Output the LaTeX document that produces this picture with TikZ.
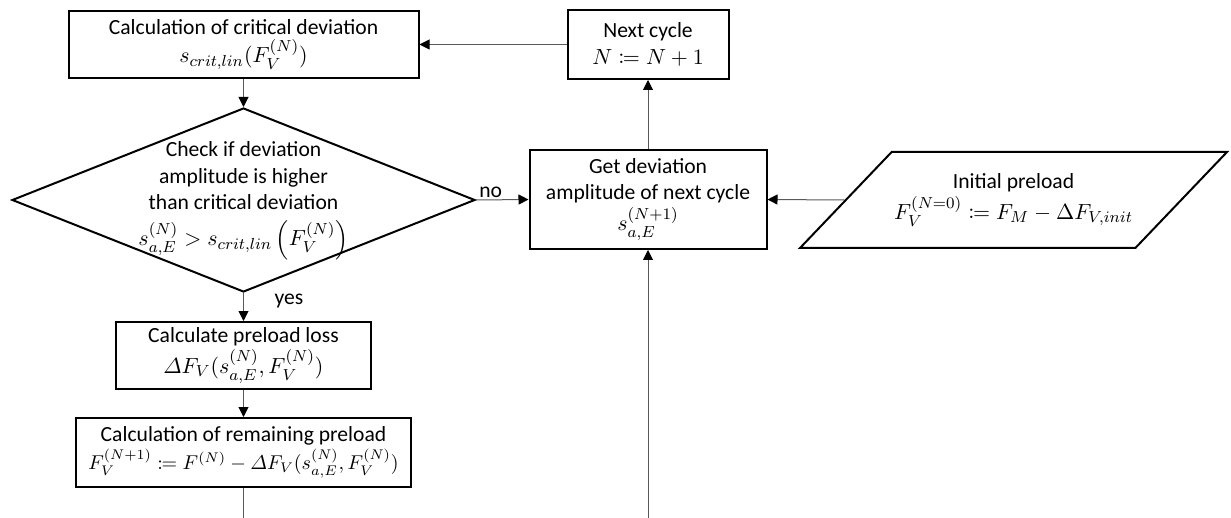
\documentclass[tikz,border=0pt]{standalone}
\usepackage{amsmath,mathtools}
\usepackage[no-math]{fontspec}
\setmainfont{Carlito}
\usetikzlibrary{shapes.geometric,arrows.meta}
\newlength{\du}
\setlength{\du}{0.5pt}

\begin{document}
\begin{tikzpicture}[
  font=\fontsize{10.8}{13.2}\selectfont,
  procbox/.style={draw=black, line width=2\du, fill=white, rectangle, inner sep=0pt, align=center},
  decision/.style={draw=black, line width=2\du, diamond, inner sep=0pt},
  inputbox/.style={draw=black, line width=2\du, trapezium, trapezium left angle=30, trapezium right angle=150, trapezium stretches body=true, inner sep=0pt, align=center},
  flowline/.style={draw=black!65, line width=1\du},
  flowarrow/.style={flowline, -{Triangle[length=5pt,width=5pt,color=black]}}
]
\pgftransformxscale{1.000000}
\pgftransformyscale{-1.000000}
\useasboundingbox (0\du,0\du) rectangle (1231\du,518\du);
% left column
\node[procbox, minimum width=350\du, minimum height=67\du] (critdev) at (243.5\du,44.5\du){Calculation of critical deviation\\[1pt] $s_{crit,lin}(F_V^{(N)})$};
\node[decision, minimum width=463\du, minimum height=184\du] (check) at (243.5\du,200\du){};
\node[align=center] (checktext) at (243.5\du,201\du){Check if deviation\\ amplitude is higher\\ than critical deviation\\[5pt] $s_{a,E}^{(N)} > s_{crit,lin}\left(F_V^{(N)}\right)$};
\node[procbox, minimum width=255\du, minimum height=67\du] (preloss) at (243.5\du,355.5\du){Calculate preload loss\\[1pt] $\varDelta F_V(s_{a,E}^{(N)},F_V^{(N)})$};
\node[procbox, minimum width=335\du, minimum height=69\du] (remain) at (243.5\du,452.5\du){Calculation of remaining preload\\[1pt] {\fontsize{9.8}{12}\selectfont$F_V^{(N+1)} \coloneqq F^{(N)} - \varDelta F_V(s_{a,E}^{(N)},F_V^{(N)})$}};
\coordinate (lossend) at (243.5\du,518\du);
% right part
\node[procbox, minimum width=161\du, minimum height=69\du] (nextcyc) at (648\du,44.5\du){Next cycle\\ $N \coloneqq N+1$};
\node[procbox, minimum width=237\du, minimum height=99\du] (getdev) at (648\du,199.5\du){Get deviation\\ amplitude of next cycle\\[1pt] $s_{a,E}^{(N+1)}$};
\node[inputbox, minimum width=427\du, minimum height=96\du] (initpre) at (1013.5\du,200\du){Initial preload\\[1pt] $F_V^{(N=0)} \coloneqq F_M - \Delta F_{V,init}$};
\coordinate (cycstart) at (648\du,518\du);
% connectors
\draw[flowarrow] (nextcyc.west) -- (critdev.east);
\draw[flowarrow] (critdev.south) -- (check.north);
\draw[flowarrow] (check.east) -- node[pos=0.28, above, inner sep=2\du]{no} (getdev.west);
\draw[flowarrow] (check.south) -- node[pos=0.3, anchor=west, xshift=24\du]{yes} (preloss.north);
\draw[flowarrow] (preloss.south) -- (remain.north);
\draw[flowline] (remain.south) -- (lossend);
\draw[flowarrow] (cycstart) -- (getdev.south);
\draw[flowarrow] (getdev.north) -- (nextcyc.south);
\draw[flowarrow] (initpre.west) -- (getdev.east);
\end{tikzpicture}
\end{document}
